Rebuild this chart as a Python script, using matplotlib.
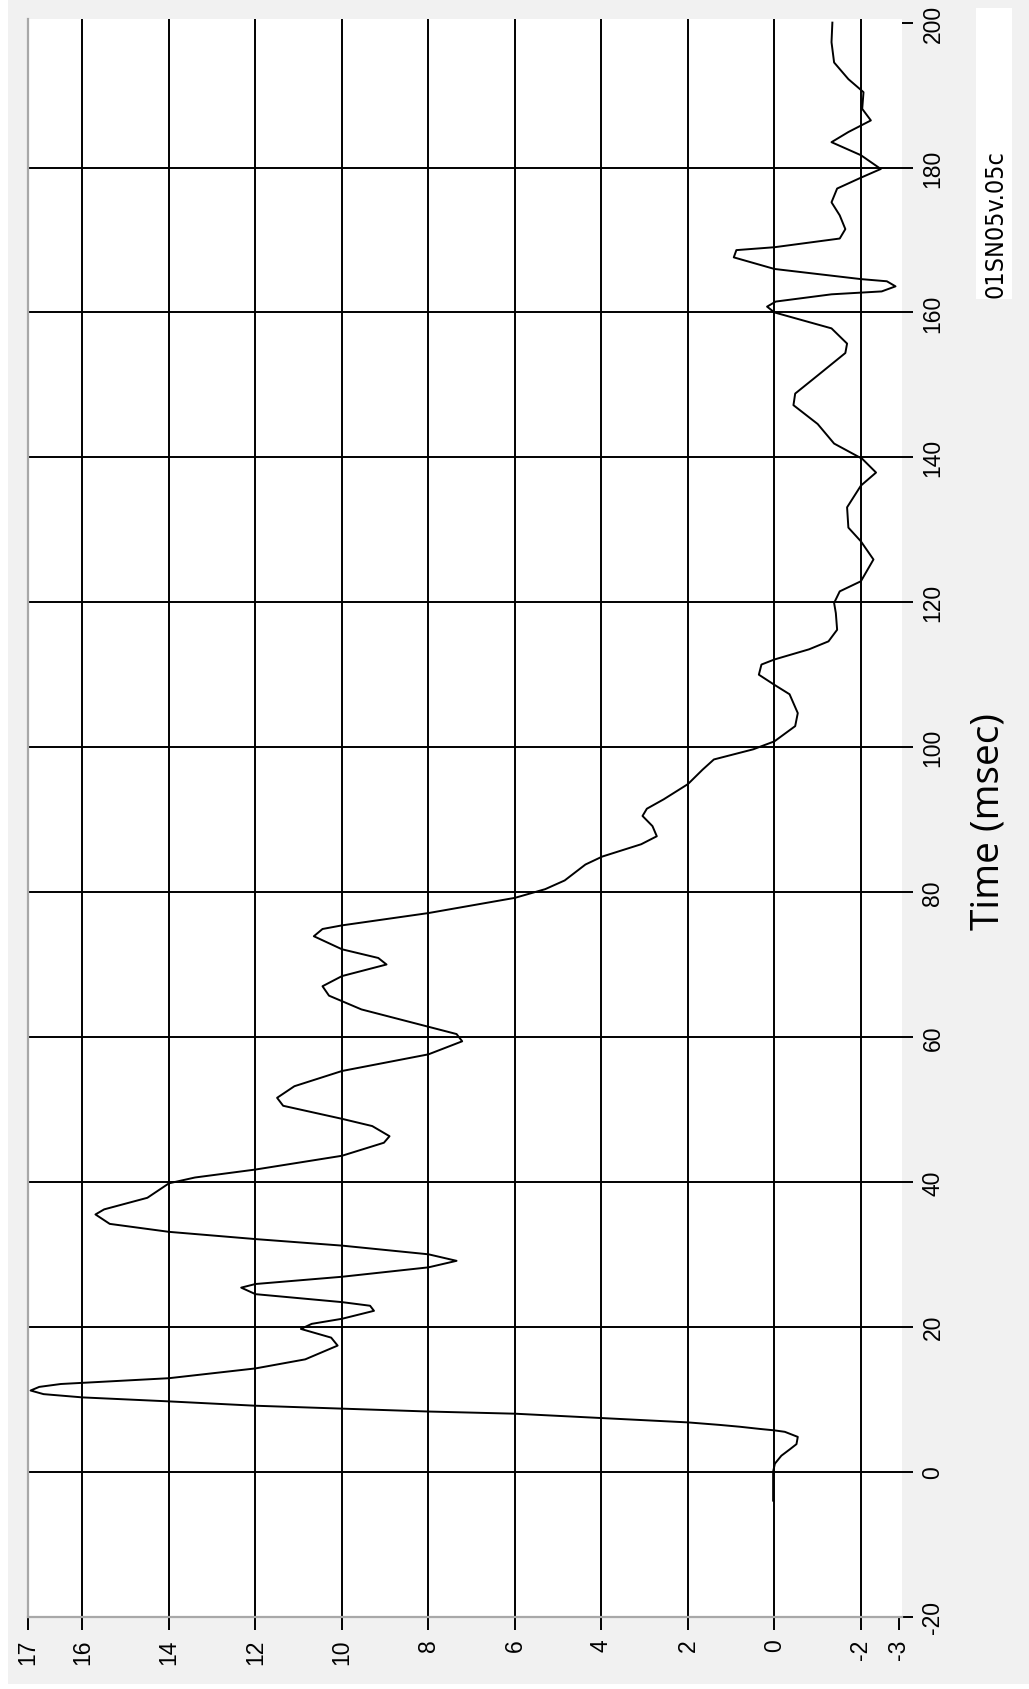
import matplotlib.pyplot as plt
from matplotlib.patches import Rectangle

# trace: time (msec) and value
time_ms = [-4.0, 0.0, 1.1, 2.2, 3.1, 3.8, 4.8, 5.5, 5.7, 5.9, 6.2, 6.45, 6.8, 7.4, 8.0, 8.3,
           8.7, 9.1, 9.7, 10.25, 10.7, 11.2, 11.7, 12.1, 12.9, 14.25, 15.5, 17.4, 18.5, 19.7,
           20.4, 21.1, 22.2, 22.9, 23.4, 24.5, 25.4, 25.9, 26.9, 28.2, 29.1, 30.0, 31.2, 32.1,
           33.1, 34.2, 35.5, 36.2, 37.8, 39.8, 40.6, 41.7, 43.6, 45.4, 46.3, 47.7, 48.7, 50.5,
           51.6, 53.2, 55.3, 57.6, 59.4, 60.4, 61.4, 63.8, 65.7, 67.0, 68.4, 70.0, 70.9, 72.1,
           73.9, 74.9, 75.4, 77.1, 79.2, 80.4, 81.6, 83.8, 84.9, 86.6, 87.7, 89.1, 90.5, 91.5,
           92.8, 94.9, 96.9, 98.3, 99.7, 100.8, 102.9, 104.7, 107.3, 108.6, 110.0, 111.4, 112.1,
           113.5, 114.6, 116.2, 118.5, 119.9, 121.5, 122.9, 125.9, 128.4, 130.3, 133.1, 136.1,
           137.9, 139.8, 141.9, 144.6, 147.2, 148.8, 151.3, 154.4, 155.7, 157.8, 160.0, 160.8,
           161.5, 162.5, 162.9, 163.6, 164.3, 164.6, 166.0, 167.6, 168.6, 169.0, 170.2, 171.5,
           173.4, 175.2, 177.1, 178.6, 179.8, 181.7, 183.5, 184.9, 186.5, 188.1, 190.4, 192.2,
           194.5, 197.3, 200.0]
value = [0.03, 0.03, -0.01, -0.16, -0.36, -0.51, -0.54, -0.24, 0.0, 0.34, 0.8, 1.26, 2.0, 4.0,
         6.0, 8.0, 10.0, 12.0, 14.0, 16.0, 16.9, 17.2, 17.0, 16.5, 14.0, 12.0, 10.85, 10.1, 10.25,
         10.95, 10.7, 10.0, 9.26, 9.35, 10.0, 12.0, 12.33, 12.0, 10.0, 8.0, 7.35, 8.0, 10.0, 12.0,
         14.0, 15.37, 15.7, 15.5, 14.5, 14.0, 13.4, 12.0, 10.0, 9.03, 8.9, 9.3, 10.0, 11.36,
         11.5, 11.1, 10.0, 8.0, 7.22, 7.35, 8.0, 9.55, 10.3, 10.45, 10.0, 8.97, 9.16, 10.0,
         10.65, 10.45, 10.0, 8.0, 6.0, 5.3, 4.85, 4.37, 3.98, 3.08, 2.72, 2.82, 3.05, 2.95,
         2.56, 2.0, 1.66, 1.4, 0.49, 0.0, -0.48, -0.54, -0.35, 0.0, 0.36, 0.3, 0.0,
         -0.8, -1.25, -1.45, -1.42, -1.38, -1.51, -2.0, -2.29, -2.0, -1.71, -1.68, -2.0,
         -2.35, -2.03, -1.38, -1.0, -0.44, -0.48, -1.0, -1.64, -1.68, -1.32, 0.0, 0.17,
         -0.03, -1.32, -2.48, -2.8, -2.6, -2.0, 0.0, 0.94, 0.88, 0.0, -1.51, -1.64,
         -1.51, -1.32, -1.45, -2.0, -2.46, -2.0, -1.32, -1.71, -2.23, -2.03, -2.06, -1.71,
         -1.38, -1.32, -1.34]

time_ticks = [-20, 0, 20, 40, 60, 80, 100, 120, 140, 160, 180, 200]
time_grid = [0, 20, 40, 60, 80, 100, 120, 140, 160, 180]
value_ticks = [17.26, 16, 14, 12, 10, 8, 6, 4, 2, 0, -2, -2.87]
value_labels = ['17', '16', '14', '12', '10', '8', '6', '4', '2', '0', '-2', '-3']
value_grid = [16, 14, 12, 10, 8, 6, 4, 2, 0, -2]

W, H = 1029, 1690
fig = plt.figure(figsize=(W / 100, H / 100), dpi=100)
fig.patch.set_facecolor('white')
fig.add_artist(Rectangle((8 / W, 5 / H), 1021 / W, 1685 / H, transform=fig.transFigure,
                         facecolor='#f1f1f1', edgecolor='none', zorder=-5))

ax = fig.add_axes([28 / W, 72 / H, 874 / W, 1598 / H])
ax.set_facecolor('white')

# grid drawn by hand, edges have no black line
for v in value_grid:
    ax.axvline(v, color='black', lw=1.4, zorder=1)
for t in time_grid:
    ax.axhline(t, color='black', lw=1.4, zorder=1)

ax.plot(value, time_ms, color='black', lw=1.4, zorder=3)

ax.set_xlim(17.26, -2.95)
ax.set_ylim(-20.06, 200.5)

ax.yaxis.tick_right()
ax.set_yticks(time_ticks)
ax.set_yticklabels([str(t) for t in time_ticks], rotation=90, va='center',
                   fontsize=16.5, family='Liberation Sans')
ax.tick_params(axis='y', length=8, width=1.4, pad=6, colors='black')

ax.set_xticks(value_ticks)
ax.set_xticklabels(value_labels, rotation=90, ha='center', va='top',
                   fontsize=16.5, family='Liberation Sans')
ax.tick_params(axis='x', length=9.5, width=1.4, pad=6, colors='black')

for side in ['top', 'right']:
    ax.spines[side].set_visible(False)
for side in ['left', 'bottom']:
    ax.spines[side].set_color('#a8a8a8')
    ax.spines[side].set_linewidth(1.6)

fig.text(988 / W, 1 - 822 / H, 'Time (msec)', rotation=90, ha='center', va='center',
         fontsize=28, family='Open Sans')

fig.add_artist(Rectangle((976 / W, 1 - 300 / H), 36 / W, 291 / H, transform=fig.transFigure,
                         facecolor='white', edgecolor='none', zorder=-4))
fig.text(995 / W, 1 - 298 / H, '01SN05v.05c', rotation=90, ha='center', va='bottom',
         fontsize=18, family=['Liberation Sans Narrow', 'DejaVu Sans'], fontstretch='condensed')

fig.savefig('out.png', dpi=100)
